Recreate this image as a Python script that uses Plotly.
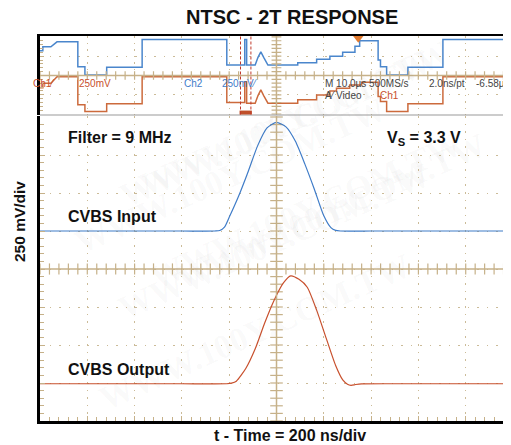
import numpy as np
import plotly.graph_objects as go

# ── Data (read off the scope shot) ─────────────────────────
# zoomed window: time in ns around the 2T pulse, level in mV
t_in = [-1000, -700, -400, -260, -240, -220, -200, -160, -120, -80, -40, 0,
        40, 80, 120, 160, 200, 230, 250, 270, 400, 700, 1000]
v_in = [250, 250, 250, 250, 253, 275, 340, 480, 640, 810, 928, 965,
        935, 840, 690, 525, 350, 272, 254, 250, 250, 250, 250]

t_out = [-1000, -700, -400, -210, -190, -170, -130, -90, -50, -10, 30, 60,
         95, 130, 170, 210, 250, 280, 300, 315, 335, 360, 500, 700, 1000]
v_out = [-755, -755, -755, -755, -751, -738, -655, -525, -355, -205, -90, -45,
         -68, -120, -272, -455, -635, -730, -758, -765, -760, -756, -755, -755, -755]

# overview: time in us, level in mV
ov_t_in = [0, 0.6, 0.6, 2.3, 3.6, 8.0, 8.0, 9.5, 9.5, 14.1, 14.1, 21.6, 21.6, 39.5, 39.5, 43.3, 43.3,
           43.7, 43.7, 45.5, 46.1, 46.7, 47.3, 48.2, 54.5, 54.5, 58.5, 58.5, 61.3, 61.3, 64.0, 64.0,
           66.6, 66.6, 67.6, 67.6, 71.5, 71.5, 72.0, 72.0, 73.3, 73.3, 77.8, 77.8, 85.2, 85.2, 100]
ov_v_in = [639, 639, 742, 742, 871, 871, 227, 227, 13, 13, 211, 211, 933, 933, 271, 271, 933,
           933, 271, 271, 470, 613, 470, 271, 271, 330, 330, 420, 420, 500, 500, 600,
           600, 760, 760, 900, 900, 400, 400, 227, 227, 13, 13, 211, 211, 933, 933]

ov_t_out = [0, 0.6, 0.6, 2.3, 3.6, 8.0, 8.0, 9.5, 9.5, 14.1, 14.1, 21.6, 21.6, 39.5, 39.5, 43.3, 43.3,
            43.7, 43.7, 45.5, 46.1, 46.7, 47.3, 48.2, 54.5, 54.5, 58.5, 58.5, 61.3, 61.3, 62.7, 62.7,
            65.5, 65.5, 68.0, 68.0, 71.5, 71.5, 72.0, 72.0, 73.3, 73.3, 77.8, 77.8, 85.2, 85.2, 100]
ov_v_out = [-320, -320, -200, -200, -31, -31, -760, -760, -933, -933, -735, -735, -31, -31, -700, -700, -160,
            -160, -717, -717, -520, -374, -520, -717, -717, -631, -631, -503, -503, -400, -400, -330,
            -330, -245, -245, -175, -175, -546, -546, -675, -675, -933, -933, -735, -735, -31, -31]

zoom_window_us = [42.4, 44.6]
trigger_us = 67.3

BLUE = "#3f7cc8"
RED = "#c8502d"
TAN = "#c6b189"
GRID = "#cbbb98"
FONT = "Liberation Sans, Arial, sans-serif"

# page is 511x445 but the browser body adds an 8px margin, so the figure is smaller
PAGE_W, PAGE_H, OFF = 511, 445, 8
W, H = PAGE_W - OFF, PAGE_H - OFF
L, R, T, B = 40 - OFF, 0, 36 - OFF, 24
plot_w = W - L - R
plot_h = H - T - B


def px(x, y):
    # page pixel -> paper coords
    return (x - OFF - L) / plot_w, (H - B - (y - OFF)) / plot_h


fig = go.Figure()

# overview traces
fig.add_trace(go.Scatter(x=ov_t_in, y=ov_v_in, xaxis="x2", yaxis="y2", mode="lines",
                         line=dict(color="#4a86cc", width=1.5)))
fig.add_trace(go.Scatter(x=ov_t_out, y=ov_v_out, xaxis="x2", yaxis="y2", mode="lines",
                         line=dict(color="#cc6a3c", width=1.5)))

# centre-line ticks
tk = dict(color=TAN, width=1.2)
fig.add_trace(go.Scatter(x=np.arange(-1000, 1001, 40), y=np.zeros(51), mode="markers",
                         marker=dict(symbol="line-ns", size=8, line=tk)))
fig.add_trace(go.Scatter(x=np.zeros(41), y=np.arange(-1000, 1001, 50), mode="markers",
                         marker=dict(symbol="line-ew", size=9, line=tk)))
fig.add_trace(go.Scatter(x=np.arange(0, 101, 2), y=np.zeros(51), xaxis="x2", yaxis="y2", mode="markers",
                         marker=dict(symbol="line-ns", size=6, line=tk)))
fig.add_trace(go.Scatter(x=np.full(21, 50), y=np.arange(-1000, 1001, 100), xaxis="x2", yaxis="y2",
                         mode="markers", marker=dict(symbol="line-ew", size=7, line=tk)))

# main traces
fig.add_trace(go.Scatter(x=t_in, y=v_in, mode="lines",
                         line=dict(color=BLUE, width=1.2, shape="spline", smoothing=0.6)))
fig.add_trace(go.Scatter(x=t_out, y=v_out, mode="lines",
                         line=dict(color=RED, width=1.2, shape="spline", smoothing=0.6)))

# trigger marker
fig.add_trace(go.Scatter(x=[trigger_us], y=[965], xaxis="x2", yaxis="y2", mode="markers",
                         marker=dict(symbol="triangle-down", size=9, color="#e07a30"), cliponaxis=False))

shapes = [
    dict(type="line", xref="x", yref="y domain", x0=0, x1=0, y0=0, y1=1, line=dict(color=TAN, width=1.5)),
    dict(type="line", xref="x domain", yref="y", x0=0, x1=1, y0=0, y1=0, line=dict(color=TAN, width=1.5)),
    dict(type="line", xref="x2", yref="y2 domain", x0=50, x1=50, y0=0, y1=1, line=dict(color=TAN, width=1.5)),
    dict(type="line", xref="x2 domain", yref="y2", x0=0, x1=1, y0=0, y1=0, line=dict(color=TAN, width=1.5)),
    dict(type="line", xref="paper", yref="paper", x0=0, x1=1, y0=px(0, 115)[1], y1=px(0, 115)[1],
         line=dict(color="#999999", width=1)),
    dict(type="rect", xref="x2", yref="y2 domain", x0=zoom_window_us[0] - 0.2, x1=zoom_window_us[1] + 0.2,
         y0=0, y1=0.05, fillcolor="#c0502a", line=dict(width=0)),
]
for xc in zoom_window_us:
    shapes.append(dict(type="line", xref="x2", yref="y2 domain", x0=xc, x1=xc, y0=0, y1=1,
                       line=dict(color="#c0392b", width=1, dash="3px,2px")))

ann = []


def text(s, x, y, size, color="#111111", bold=False, xanchor="left", angle=0):
    xp, yp = px(x, y)
    ann.append(dict(text=f"<b>{s}</b>" if bold else s, x=xp, y=yp, xref="paper", yref="paper",
                    xanchor=xanchor, yanchor="middle", showarrow=False, textangle=angle,
                    font=dict(family=FONT, size=size, color=color)))


# faint distributor watermark
for cx, cy in [(130, 30), (440, 40), (230, 175), (330, 300), (110, 330), (470, 210), (420, 420)]:
    xp, yp = px(cx, cy)
    ann.append(dict(text="<b>WWW.100Y.COM.TW</b>", x=xp, y=yp, xref="paper", yref="paper",
                    showarrow=False, textangle=-24,
                    font=dict(family="Liberation Serif, serif", size=34, color="rgba(120,120,120,0.045)")))

text("NTSC - 2T RESPONSE", 291.5, 17, 20, bold=True, xanchor="center")
text("Filter = 9 MHz", 66, 137, 16, bold=True)
text("V<sub>S</sub> = 3.3 V", 385, 138, 16, bold=True)
text("CVBS Input", 66, 216, 16, bold=True)
text("CVBS Output", 66, 369, 16, bold=True)
text("t - Time = 200 ns/div", 289.5, 435, 16, bold=True, xanchor="center")
text("250 mV/div", 19, 222, 15.5, bold=True, xanchor="center", angle=-90)

# scope read-outs in the overview strip
ro = 10
text("Ch1⁄", 31, 83, ro, color=RED)
text("250mV", 77, 83, ro, color=RED)
text("Ch2", 182, 83, ro, color=BLUE)
text("250mV⁄", 220, 83, ro, color=BLUE)
text("M 10.0µs 500MS/s", 323, 83, ro, color="#444444")
text("2.0ns/pt", 427, 83, ro, color="#444444")
text("-6.58µs", 474, 83, ro, color="#444444")
text("A⁄ Video", 323, 95, ro, color="#444444")
text("Ch1", 378, 95, ro, color=RED)

main_top = px(0, 116)[1]
ov_bot = px(0, 114.5)[1]

axis_common = dict(showticklabels=False, zeroline=False, showgrid=True, gridcolor=GRID, gridwidth=1,
                   showline=True, linecolor="black", mirror=False)

fig.update_layout(
    width=W, height=H,
    margin=dict(l=L, r=R, t=T, b=B),
    paper_bgcolor="white", plot_bgcolor="white",
    showlegend=False, hovermode=False,
    shapes=shapes, annotations=ann,
    xaxis=dict(axis_common, domain=[0, 1], anchor="y", range=[-1000, 991.5], tick0=0, dtick=200,
               linewidth=3, ticks="inside", ticklen=5, tickcolor=TAN, griddash="1.5px,6.1px",
               minor=dict(ticks="inside", dtick=40, ticklen=4, tickcolor=TAN, showgrid=False)),
    yaxis=dict(axis_common, domain=[0, main_top], anchor="x", range=[-1000, 1006.6], tick0=0, dtick=250,
               linewidth=3, ticks="inside", ticklen=5, tickcolor=TAN, griddash="1.5px,8px",
               minor=dict(ticks="inside", dtick=50, ticklen=4, tickcolor=TAN, showgrid=False)),
    xaxis2=dict(axis_common, domain=[0, 1], anchor="y2", side="top", range=[0, 99.6], tick0=0, dtick=10,
                linewidth=2, ticks="", griddash="1.5px,5px"),
    yaxis2=dict(axis_common, domain=[ov_bot, 1], anchor="x2", range=[-1011, 1023], tick0=0, dtick=500,
                linewidth=3, ticks="inside", ticklen=4, tickcolor=TAN, griddash="1.5px,8px",
                minor=dict(ticks="inside", dtick=100, ticklen=3, tickcolor=TAN, showgrid=False)),
)

fig.write_html("out.html")
